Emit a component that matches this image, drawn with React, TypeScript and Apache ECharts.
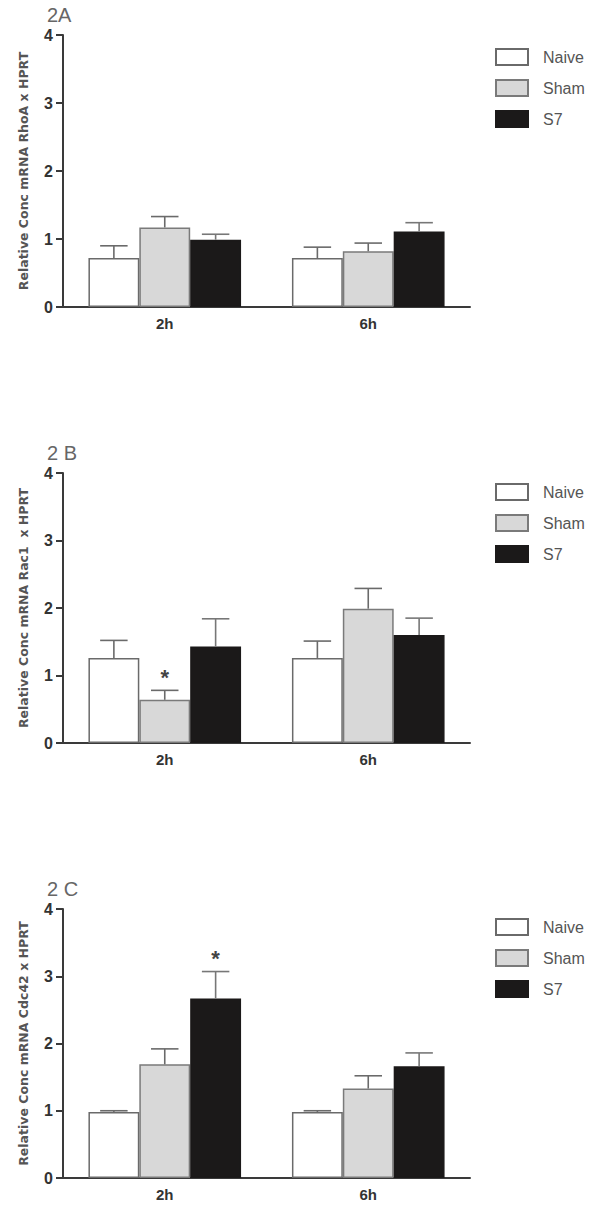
import React, { useEffect, useRef } from "react";
import * as echarts from "echarts";

const categories = ["2h", "6h"];
const groups = ["Naive", "Sham", "S7"];
const panelTitles = ["2A", "2 B", "2 C"];
const yAxisNames = [
  "Relative Conc mRNA RhoA x HPRT",
  "Relative Conc mRNA Rac1  x HPRT",
  "Relative Conc mRNA Cdc42 x HPRT",
];

// Panel A (RhoA)
const rhoaNaive = [0.72, 0.72];
const rhoaSham = [1.17, 0.82];
const rhoaS7 = [0.99, 1.11];
const rhoaNaiveErr = [0.18, 0.16];
const rhoaShamErr = [0.16, 0.12];
const rhoaS7Err = [0.08, 0.13];

// Panel B (Rac1)
const rac1Naive = [1.26, 1.26];
const rac1Sham = [0.64, 1.99];
const rac1S7 = [1.43, 1.6];
const rac1NaiveErr = [0.26, 0.25];
const rac1ShamErr = [0.14, 0.3];
const rac1S7Err = [0.41, 0.25];

// Panel C (Cdc42)
const cdc42Naive = [0.98, 0.98];
const cdc42Sham = [1.69, 1.33];
const cdc42S7 = [2.67, 1.66];
const cdc42NaiveErr = [0.02, 0.02];
const cdc42ShamErr = [0.23, 0.19];
const cdc42S7Err = [0.4, 0.2];

// significance stars: [group][category]
const rhoaStars = [[0, 0], [0, 0], [0, 0]];
const rac1Stars = [[0, 0], [1, 0], [0, 0]];
const cdc42Stars = [[0, 0], [0, 0], [1, 0]];

const yTicks = [0, 1, 2, 3, 4];

const panels = [
  { means: [rhoaNaive, rhoaSham, rhoaS7], errs: [rhoaNaiveErr, rhoaShamErr, rhoaS7Err], stars: rhoaStars },
  { means: [rac1Naive, rac1Sham, rac1S7], errs: [rac1NaiveErr, rac1ShamErr, rac1S7Err], stars: rac1Stars },
  { means: [cdc42Naive, cdc42Sham, cdc42S7], errs: [cdc42NaiveErr, cdc42ShamErr, cdc42S7Err], stars: cdc42Stars },
];

const gridTops = [35, 473, 909];
const gridHeights = [272, 270, 269];
const legendCenters = [57, 492, 927];
const fills = ["#ffffff", "#d8d8d8", "#1b1919"];
const borders = ["#6a6a6a", "#7a7a7a", "#1b1919"];
const CAT_GAP = 0.25;

export default function App() {
  const ref = useRef<HTMLDivElement>(null);
  useEffect(() => {
    if (!ref.current) return;
    const chart = echarts.init(ref.current, null, { renderer: "svg" });

    const grid: any[] = [];
    const xAxis: any[] = [];
    const yAxis: any[] = [];
    const series: any[] = [];
    const legend: any[] = [];
    const title: any[] = [];

    panels.forEach((p, pi) => {
      grid.push({ left: 63, width: 407, top: gridTops[pi], height: gridHeights[pi] });
      xAxis.push({
        type: "category",
        gridIndex: pi,
        data: categories,
        axisLine: { lineStyle: { color: "#3a3a3a", width: 2 } },
        axisTick: { alignWithLabel: true, length: 6, lineStyle: { color: "#3a3a3a", width: 2 } },
        axisLabel: { fontSize: 15, fontWeight: "bold", color: "#333", margin: 9, fontFamily: "Arial, Liberation Sans, sans-serif" },
      });
      yAxis.push({
        type: "value",
        gridIndex: pi,
        min: yTicks[0],
        max: yTicks[yTicks.length - 1],
        interval: 1,
        splitLine: { show: false },
        axisLine: { show: true, lineStyle: { color: "#3a3a3a", width: 2 } },
        axisTick: { show: true, length: 7, lineStyle: { color: "#3a3a3a", width: 2 } },
        axisLabel: { fontSize: 16, fontWeight: "bold", color: "#333", margin: 10, fontFamily: "Arial, Liberation Sans, sans-serif" },
        name: yAxisNames[pi],
        nameLocation: "middle",
        nameRotate: 90,
        nameGap: 33,
        nameTextStyle: { fontSize: 12.5, fontWeight: "bold", color: "#555", fontFamily: "DejaVu Sans, sans-serif" },
      });
      groups.forEach((g, gi) => {
        series.push({
          type: "bar",
          name: g,
          xAxisIndex: pi,
          yAxisIndex: pi,
          data: p.means[gi],
          barGap: "0%",
          barCategoryGap: CAT_GAP * 100 + "%",
          itemStyle: { color: fills[gi], borderColor: borders[gi], borderWidth: 1.5 },
          z: 2,
        });
      });
      const errData: any[] = [];
      groups.forEach((g, gi) => {
        categories.forEach((c, ci) => {
          errData.push([ci, p.means[gi][ci], p.errs[gi][ci], gi, p.stars[gi][ci]]);
        });
      });
      series.push({
        type: "custom",
        xAxisIndex: pi,
        yAxisIndex: pi,
        data: errData,
        z: 5,
        silent: true,
        encode: { x: 0, y: 1 },
        renderItem: (params: any, api: any) => {
          const cat = api.value(0);
          const mean = api.value(1);
          const err = api.value(2);
          const gi = api.value(3);
          const star = api.value(4);
          const catW = api.size([1, 0])[0];
          const barW = (catW * (1 - CAT_GAP)) / 3;
          const base = api.coord([cat, mean]);
          const x = base[0] + (gi - 1) * barW;
          const top = api.coord([cat, mean + err])[1];
          const half = barW * 0.27;
          const color = gi === 2 ? "#777" : "#6a6a6a";
          const children: any[] = [
            { type: "line", shape: { x1: x, y1: base[1], x2: x, y2: top }, style: { stroke: color, lineWidth: 1.6 } },
            { type: "line", shape: { x1: x - half, y1: top, x2: x + half, y2: top }, style: { stroke: color, lineWidth: 1.6 } },
          ];
          if (star) {
            children.push({
              type: "text",
              style: {
                text: "*",
                x: x,
                y: top - 2,
                align: "center",
                verticalAlign: "bottom",
                fontSize: 22,
                fontWeight: "bold",
                fill: "#444",
                fontFamily: "Arial, Liberation Sans, sans-serif",
              },
            });
          }
          return { type: "group", children };
        },
      });
      legend.push({
        data: groups,
        orient: "vertical",
        left: 495,
        top: legendCenters[pi] - 9,
        padding: 0,
        itemWidth: 32,
        itemHeight: 16,
        itemGap: 13,
        icon: "rect",
        textStyle: { fontSize: 16, color: "#555", fontFamily: "Arial, Liberation Sans, sans-serif", padding: [0, 0, 0, 10] },
        selectedMode: false,
      });
      title.push({
        text: panelTitles[pi],
        left: 47,
        top: gridTops[pi] - 30,
        padding: 0,
        textStyle: { fontSize: 20, fontWeight: "normal", color: "#666", fontFamily: "Arial, Liberation Sans, sans-serif" },
      });
    });

    chart.setOption({
      animation: false,
      backgroundColor: "#ffffff",
      title,
      legend,
      grid,
      xAxis,
      yAxis,
      series,
    });
    return () => chart.dispose();
  }, []);
  return (
    <div
      ref={ref}
      style={{ position: "fixed", left: 0, top: 0, width: 600, height: 1220, background: "#fff" }}
    />
  );
}
